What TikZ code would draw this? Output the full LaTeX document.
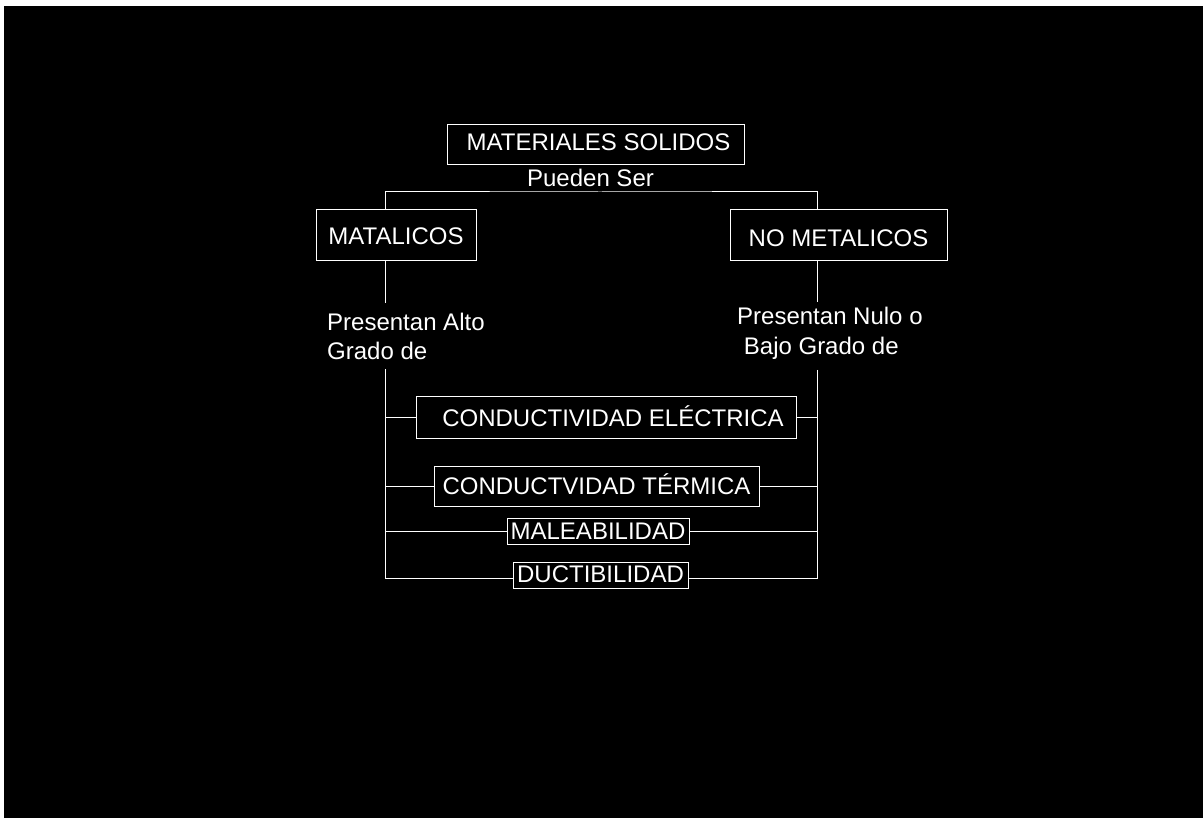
\documentclass[tikz,border=0pt]{standalone}
\usepackage{fontspec}
\setmainfont{Liberation Sans}
\begin{document}
\begin{tikzpicture}[x=1pt,y=-1pt,
  lbl/.style={text=white, font=\fontsize{24}{29}\selectfont, inner sep=0pt},
  box/.style={lbl, draw=white, line width=1pt, text height=17.2pt, text depth=0pt},
  conn/.style={draw=white, line width=1pt}]
\fill[white] (0,0) rectangle (1203,818);
\fill[black] (4,6) rectangle (1203,818);
\useasboundingbox (0,0) rectangle (1203,818);
% boxes
\node[box, minimum width=297pt, minimum height=40pt] (mat) at (595.5,145) {\hspace*{6pt}\raisebox{3.5pt}{MATERIALES SOLIDOS}};
\node[box, minimum width=160pt, minimum height=51pt] (met) at (396,235.5) {MATALICOS};
\node[box, minimum width=217pt, minimum height=51pt] (nomet) at (838.5,235.5) {\raisebox{-2.5pt}{NO METALICOS}};
\node[box, minimum width=380pt, minimum height=41pt] (elec) at (606,417.5) {\hspace*{14pt}CONDUCTIVIDAD ELÉCTRICA};
\node[box, minimum width=325pt, minimum height=40pt] (term) at (596.5,486) {CONDUCTVIDAD TÉRMICA};
\node[box, minimum width=182pt, minimum height=26pt] (male) at (598,531) {MALEABILIDAD};
\node[box, minimum width=175pt, minimum height=26pt] (duct) at (600.5,575) {\raisebox{1pt}{DUCTIBILIDAD}};
% labels
\node[lbl, text height=17.2pt, text depth=0pt] (pueden) at (590.5,177.5) {Pueden Ser};
\node[lbl, anchor=base west] (pa1) at (327,331) {Presentan Alto};
\node[lbl, anchor=base west] (pa2) at (327,360) {Grado de};
\node[lbl, anchor=base west] (pn1) at (737,325) {Presentan Nulo o};
\node[lbl, anchor=base west] (pn2) at (743.7,355) {Bajo Grado de};
% coordinates
\coordinate (L) at (385,0);
\coordinate (R) at (817,0);
\coordinate (top) at (600,192);
\coordinate (La) at (385,303);
\coordinate (Lc) at (385,369);
\coordinate (Ra) at (817,302);
\coordinate (Rc) at (817,370);
\coordinate (Lb) at (385,578);
\coordinate (Rb) at (817,578);
% connectors
\draw[conn] (met.north -| L) |- (top) -| (nomet.north -| R);
\draw[conn] (met.south -| L) -- (La);
\draw[conn] (nomet.south -| R) -- (Ra);
\draw[conn] (Lc) -- (Lb) -- (Lb -| duct.west);
\draw[conn] (Rc) -- (Rb) -- (Rb -| duct.east);
\draw[conn] (elec.west -| L) -- (elec.west);
\draw[conn] (elec.east) -- (elec.east -| R);
\draw[conn] (term.west -| L) -- (term.west);
\draw[conn] (term.east) -- (term.east -| R);
\draw[conn] (male.west -| L) -- (male.west);
\draw[conn] (male.east) -- (male.east -| R);
\end{tikzpicture}
\end{document}
